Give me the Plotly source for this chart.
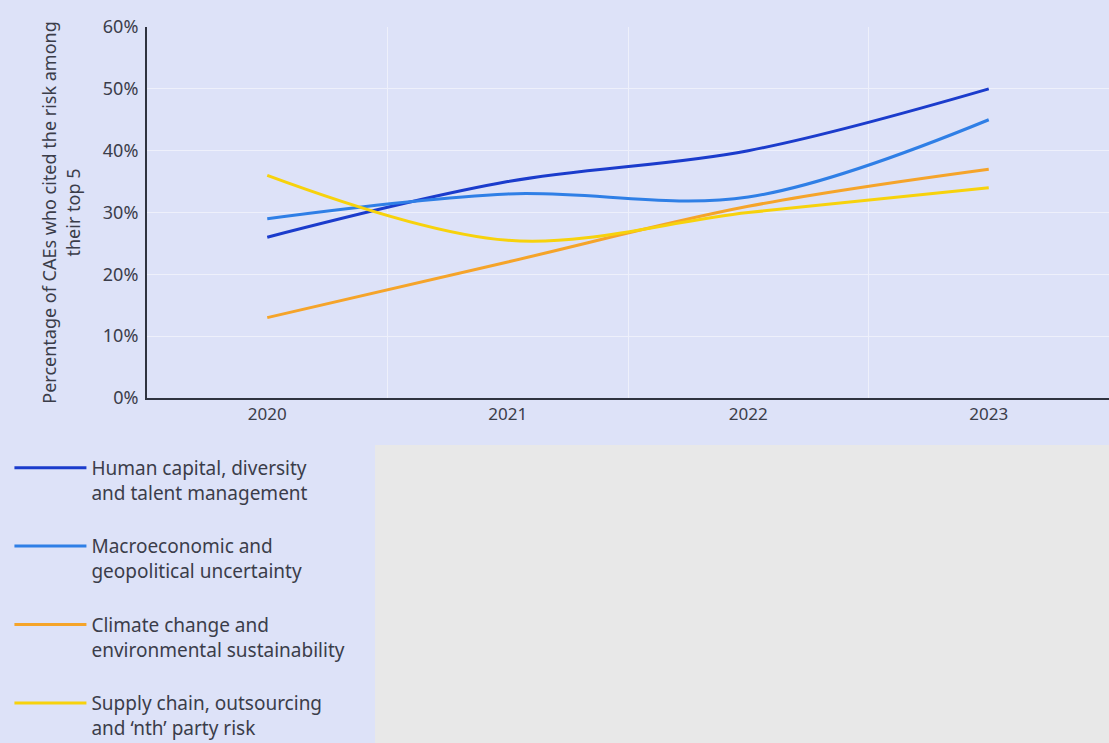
import plotly.graph_objects as go

years = ["2020", "2021", "2022", "2023"]
human_capital = [26, 35, 40, 50]
macro_geo = [29, 33, 32.5, 45]
climate = [13, 22, 31, 37]
supply_chain = [36, 25.5, 30, 34]

series = [
    ("Human capital, diversity<br>and talent management", human_capital, "#1b3ccc"),
    ("Macroeconomic and<br>geopolitical uncertainty", macro_geo, "#2f7fe6"),
    ("Climate change and<br>environmental sustainability", climate, "#f5a42a"),
    ("Supply chain, outsourcing<br>and ‘nth’ party risk", supply_chain, "#f7d20c"),
]

lavender = "#dde2f8"
text_col = "#3b3d4a"

fig = go.Figure()
for i, (name, vals, col) in enumerate(series):
    fig.add_trace(go.Scatter(
        x=years, y=vals, name=name, mode="lines",
        line=dict(color=col, width=3, shape="spline"),
        legendgroup=str(i)))

fig.update_layout(
    width=1109, height=743,
    margin=dict(l=147, r=0, t=27, b=345, autoexpand=False),
    paper_bgcolor=lavender, plot_bgcolor=lavender,
    font=dict(family="Noto Sans", size=17, color=text_col),
    showlegend=True,
    legend=dict(x=-0.143, y=-0.137, xanchor="left", yanchor="top",
                bgcolor="rgba(0,0,0,0)", font=dict(size=19, color=text_col),
                itemwidth=72, tracegroupgap=26, valign="top"),
    xaxis=dict(type="category", range=[-0.5, 3.5], tickson="boundaries",
               ticks="", showgrid=True, gridcolor="#eef0fb", gridwidth=1,
               showline=True, linecolor="#2f3340", linewidth=2,
               tickfont=dict(size=17)),
    yaxis=dict(range=[0, 60], dtick=10, ticksuffix="%", showgrid=True,
               gridcolor="#eef0fb", gridwidth=1, zeroline=False,
               showline=True, linecolor="#2f3340", linewidth=2,
               tickfont=dict(size=18), ticklabelstandoff=3,
               title=dict(text="Percentage of CAEs who cited the risk among<br>their top 5",
                          font=dict(size=18), standoff=18)),
)

# grey panel to the right of the legend
fig.add_shape(type="rect", xref="paper", yref="paper",
              x0=0.237, x1=1.0, y0=-0.127, y1=-0.93,
              fillcolor="#e8e8e8", line_width=0, layer="below")

fig.write_html("out.html", config={"displayModeBar": False},
               post_script="document.body.style.margin='0';")
